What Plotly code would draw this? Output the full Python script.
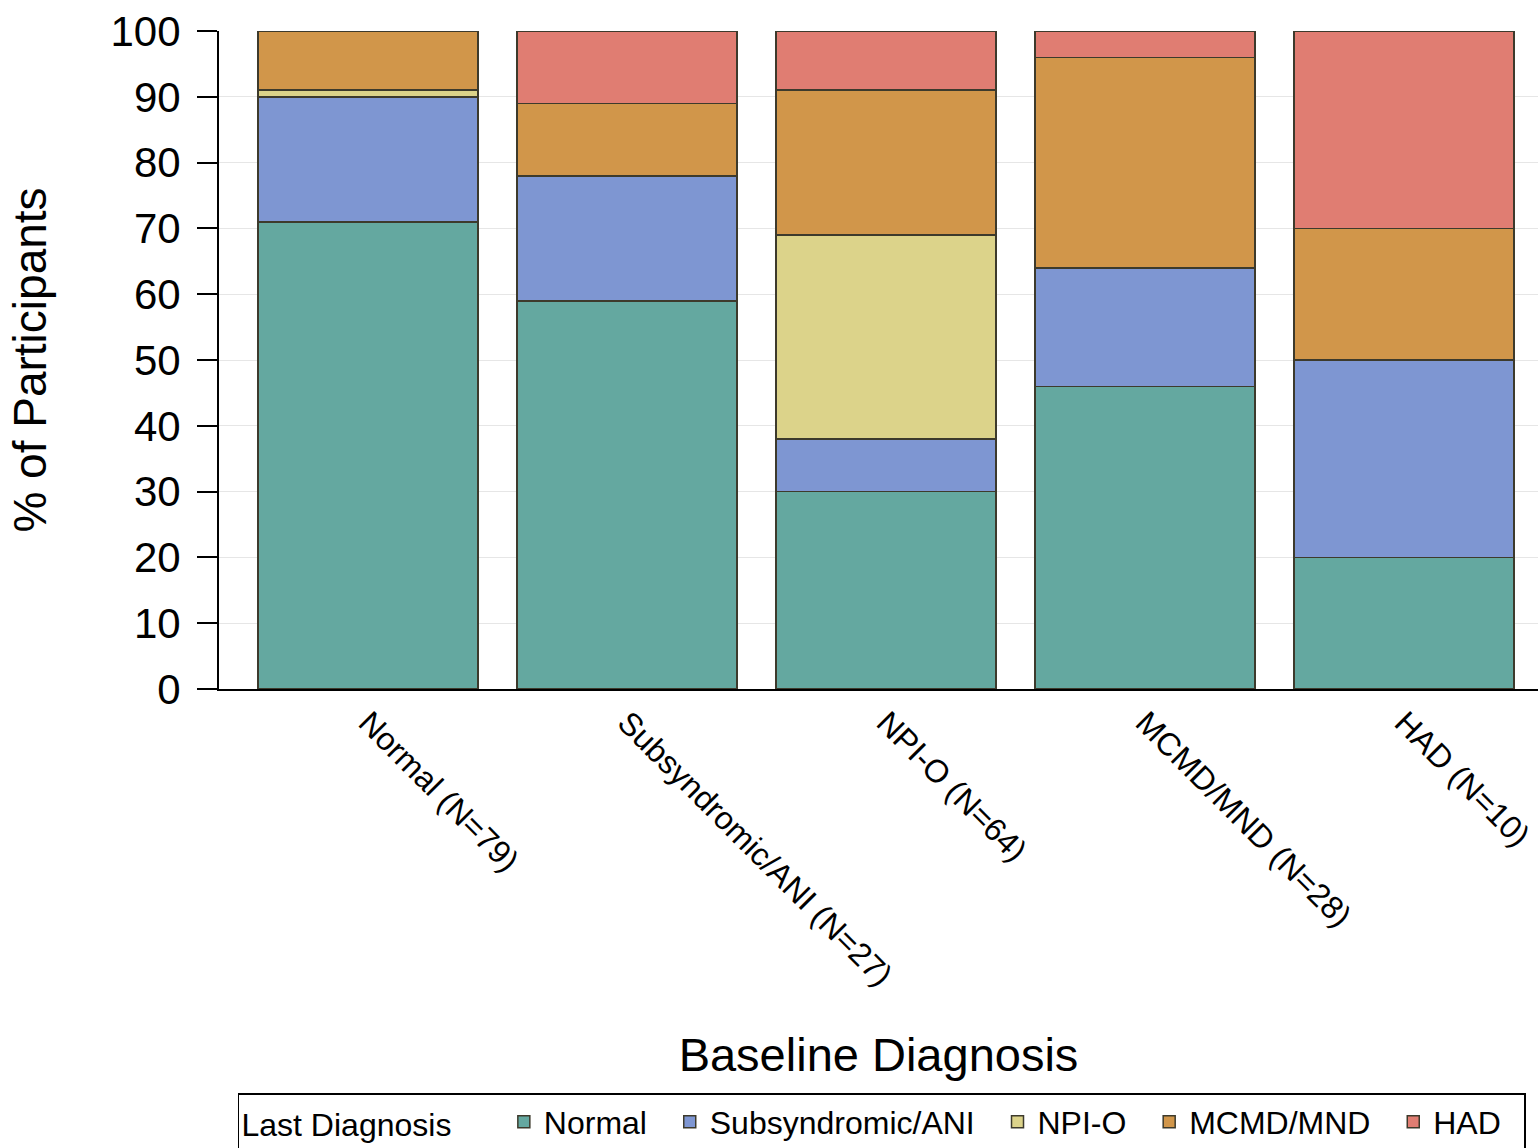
import plotly.graph_objects as go

categories = ["Normal (N=79)", "Subsyndromic/ANI (N=27)", "NPI-O (N=64)", "MCMD/MND (N=28)", "HAD (N=10)"]
series_names = ["Normal", "Subsyndromic/ANI", "NPI-O", "MCMD/MND", "HAD"]
normal_vals = [71, 59, 30, 46, 20]
subsyn_vals = [19, 19, 8, 18, 30]
npio_vals = [1, 0, 31, 0, 0]
mcmd_vals = [9, 11, 22, 32, 20]
had_vals = [0, 11, 9, 4, 30]
y_ticks = [0, 10, 20, 30, 40, 50, 60, 70, 80, 90, 100]

colors = ["#64a8a0", "#7e96d2", "#dcd38a", "#d1964a", "#e07d72"]
all_vals = [normal_vals, subsyn_vals, npio_vals, mcmd_vals, had_vals]

font_family = "Liberation Sans, Arial, sans-serif"

fig = go.Figure()
for name, vals, col in zip(series_names, all_vals, colors):
    fig.add_trace(go.Bar(
        x=categories, y=vals, name=name + "  ",
        marker=dict(color=col, line=dict(color="#3d3a2c", width=1.5)),
        width=0.85, cliponaxis=False,
    ))

fig.update_layout(
    barmode="stack",
    width=1538, height=1148,
    margin=dict(l=219, r=0, t=31, b=459, autoexpand=False),
    paper_bgcolor="white", plot_bgcolor="white",
    font=dict(family=font_family, color="black"),
    xaxis=dict(
        range=[-0.575, 4.517], tickangle=45, tickfont=dict(size=32),
        showline=True, linecolor="black", linewidth=2, ticks="",
        title=dict(text="Baseline Diagnosis", font=dict(size=47), standoff=46),
        showgrid=False, automargin=False,
    ),
    yaxis=dict(
        range=[0, 100], tickvals=y_ticks, tickfont=dict(size=42),
        showline=True, linecolor="black", linewidth=2,
        ticks="outside", ticklen=20, tickwidth=2, tickcolor="black",
        ticklabelstandoff=8,
        showgrid=True, gridcolor="#e6e6e6", gridwidth=1,
        title=dict(text="% of Participants", font=dict(size=46), standoff=49),
        zeroline=False, automargin=False,
    ),
    legend=dict(
        orientation="h", x=0.0144, xanchor="left", y=-0.614, yanchor="top",
        title=dict(text="Last Diagnosis     ", font=dict(size=32), side="left"),
        font=dict(size=32), bordercolor="black", borderwidth=1.5,
        bgcolor="white", traceorder="normal", itemwidth=30,
    ),
    bargap=0.15,
)

fig.write_html("out.html", config={"displayModeBar": False},
               post_script="document.body.style.margin='0';document.body.style.overflow='hidden';")
